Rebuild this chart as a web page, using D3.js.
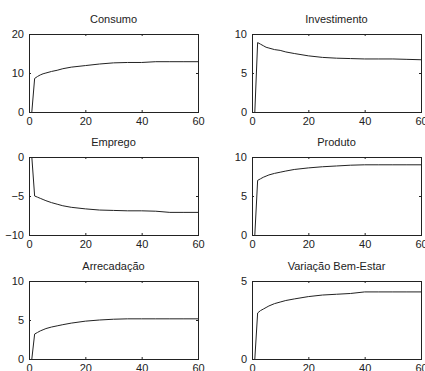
<!DOCTYPE html>
<html>
<head>
<meta charset="utf-8">
<script src="https://cdn.jsdelivr.net/npm/d3@7"></script>
<style>
    body { margin: 0; background: #fff; }
    text { font-family: "Liberation Sans", Arial, sans-serif; font-size: 11px; fill: #222; }
</style>
</head>
<body>
<div id="chart"></div>
<script>
// periods (same for every panel)
const periods = [1, 2, 3, 4, 5, 6, 8, 10, 12, 15, 20, 25, 30, 35, 40, 45, 50, 55, 60];

const titles = ["Consumo", "Investimento", "Emprego", "Produto", "Arrecadação", "Variação Bem-Estar"];

const consumo      = [0, 8.6, 9.1, 9.5, 9.8, 10.0, 10.4, 10.7, 11.1, 11.5, 11.9, 12.3, 12.6, 12.7, 12.7, 12.9, 12.9, 12.9, 12.9];
const investimento = [0, 8.9, 8.7, 8.5, 8.3, 8.2, 8.0, 7.9, 7.7, 7.5, 7.2, 7.0, 6.9, 6.85, 6.8, 6.8, 6.8, 6.75, 6.7];
const emprego      = [0, -5.0, -5.15, -5.3, -5.45, -5.6, -5.85, -6.05, -6.25, -6.45, -6.65, -6.8, -6.85, -6.9, -6.9, -6.95, -7.1, -7.1, -7.1];
const produto      = [0, 7.0, 7.2, 7.4, 7.55, 7.7, 7.9, 8.05, 8.2, 8.4, 8.6, 8.75, 8.85, 8.95, 9.0, 9.0, 9.0, 9.0, 9.0];
const arrecadacao  = [0, 3.2, 3.4, 3.6, 3.75, 3.9, 4.1, 4.25, 4.4, 4.6, 4.85, 5.0, 5.1, 5.15, 5.15, 5.15, 5.15, 5.15, 5.15];
const bemEstar     = [0, 2.95, 3.1, 3.2, 3.3, 3.4, 3.55, 3.65, 3.75, 3.85, 4.0, 4.1, 4.15, 4.2, 4.3, 4.3, 4.3, 4.3, 4.3];

const series = [consumo, investimento, emprego, produto, arrecadacao, bemEstar];

// axis limits and ticks per panel
const yDomains = [[0, 20], [0, 10], [-10, 0], [0, 10], [0, 10], [0, 5]];
const yTicks = [[0, 10, 20], [0, 5, 10], [-10, -5, 0], [0, 5, 10], [0, 5, 10], [0, 5]];
const xDomain = [0, 60];
const xTicks = [0, 20, 40, 60];

const svg = d3.select("#chart")
    .append("svg")
    .attr("width", 425)
    .attr("height", 371);

svg.append("rect")
    .attr("width", 425)
    .attr("height", 371)
    .attr("fill", "#fff");

// panel placement
const colLeft = [29, 252];
const colWidth = 169;
const rowTop = [34, 157, 281];
const rowHeight = 78;
const tickLen = 2;
const fmt = d3.format("d");

series.forEach((values, i) => {
    const col = i % 2;
    const row = Math.floor(i / 2);
    const x0 = colLeft[col];
    const y0 = rowTop[row];

    const g = svg.append("g")
        .attr("transform", `translate(${x0}, ${y0})`);

    const xScale = d3.scaleLinear()
        .domain(xDomain)
        .range([0, colWidth]);

    const yScale = d3.scaleLinear()
        .domain(yDomains[i])
        .range([rowHeight, 0]);

    // bottom axis with labels, ticks pointing inward
    const xAxis = d3.axisBottom(xScale)
        .tickValues(xTicks)
        .tickFormat(fmt)
        .tickSizeInner(-tickLen)
        .tickSizeOuter(0)
        .tickPadding(5);
    g.append("g")
        .attr("transform", `translate(0, ${rowHeight})`)
        .call(xAxis);

    // top axis, ticks only
    g.append("g")
        .call(d3.axisTop(xScale).tickValues(xTicks).tickSizeInner(-tickLen).tickSizeOuter(0).tickFormat(""));

    // left axis with labels
    const yAxis = d3.axisLeft(yScale)
        .tickValues(yTicks[i])
        .tickFormat(fmt)
        .tickSizeInner(-tickLen)
        .tickSizeOuter(0)
        .tickPadding(5);
    g.append("g")
        .call(yAxis);

    // right axis, ticks only
    g.append("g")
        .attr("transform", `translate(${colWidth}, 0)`)
        .call(d3.axisRight(yScale).tickValues(yTicks[i]).tickSizeInner(-tickLen).tickSizeOuter(0).tickFormat(""));

    g.selectAll(".domain").remove();
    g.selectAll(".tick line").attr("stroke", "#222");
    g.selectAll(".tick text")
        .attr("fill", "#222")
        .style("font-family", "'Liberation Sans', Arial, sans-serif")
        .style("font-size", "11px");

    // box
    g.append("rect")
        .attr("x", 0.5)
        .attr("y", 0.5)
        .attr("width", colWidth)
        .attr("height", rowHeight)
        .attr("fill", "none")
        .attr("stroke", "#222")
        .attr("stroke-width", 1);

    // response line
    const line = d3.line()
        .x((d, j) => xScale(periods[j]))
        .y((d) => yScale(d));
    g.append("path")
        .datum(values)
        .attr("d", line)
        .attr("fill", "none")
        .attr("stroke", "#222")
        .attr("stroke-width", 1);

    // title
    g.append("text")
        .attr("x", colWidth / 2)
        .attr("y", -11)
        .attr("text-anchor", "middle")
        .text(titles[i]);
});
</script>
</body>
</html>
